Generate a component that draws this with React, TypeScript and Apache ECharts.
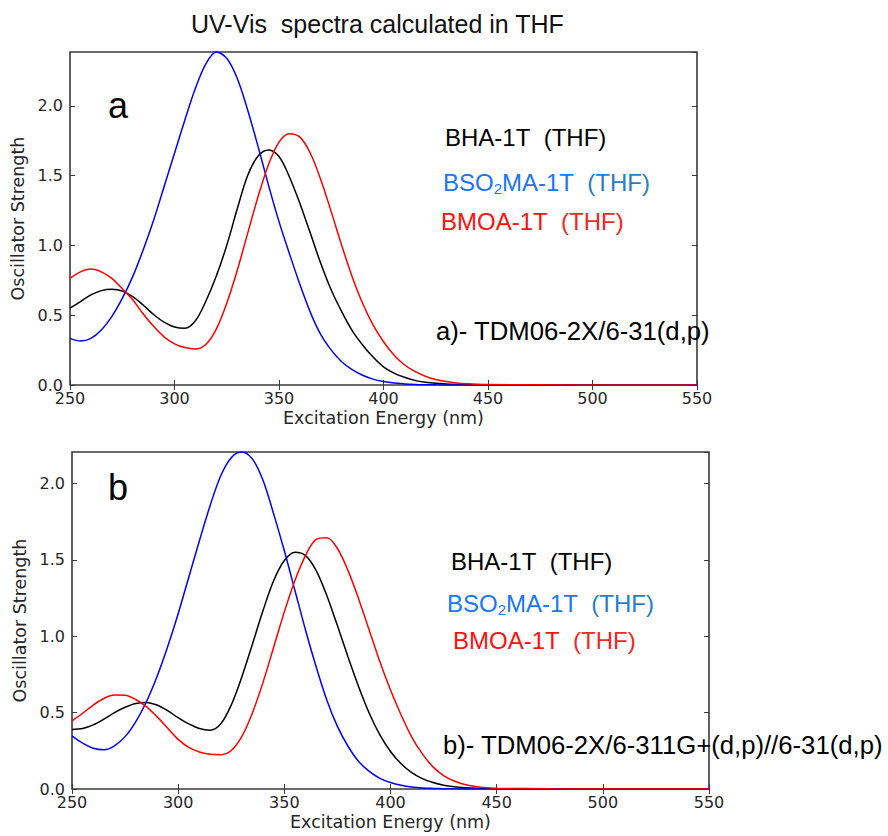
import React, { useEffect, useRef } from "react";
import * as echarts from "echarts";

// Wavelengths (nm) sampled for both panels
const wavelengths = [
  250, 255, 260, 265, 270, 275, 280, 285, 290, 295,
  300, 305, 310, 315, 320, 325, 330, 335, 340, 345,
  350, 355, 360, 365, 370, 375, 380, 385, 390, 395,
  400, 405, 410, 415, 420, 425, 430, 435, 440, 445,
  450, 475, 500, 525, 550,
];

// Panel a: TDM06-2X/6-31(d,p)
const bhaA = [
  0.55, 0.597, 0.645, 0.676, 0.685, 0.673, 0.633, 0.573, 0.505, 0.45,
  0.415, 0.406, 0.46, 0.6, 0.78, 1.0, 1.26, 1.5, 1.64, 1.683,
  1.636, 1.49, 1.3, 1.086, 0.87, 0.68, 0.525, 0.39, 0.287, 0.2,
  0.13, 0.085, 0.055, 0.033, 0.02, 0.012, 0.007, 0.004, 0.002, 0.001,
  0.0005, 0, 0, 0, 0,
];
const bso2maA = [
  0.334, 0.315, 0.334, 0.394, 0.49, 0.62, 0.776, 0.967, 1.18, 1.42,
  1.66, 1.9, 2.125, 2.3, 2.385, 2.34, 2.197, 1.97, 1.707, 1.43,
  1.17, 0.94, 0.72, 0.52, 0.36, 0.25, 0.167, 0.11, 0.07, 0.042,
  0.025, 0.014, 0.008, 0.004, 0.002, 0.001, 0.0005, 0, 0, 0,
  0, 0, 0, 0, 0,
];
const bmoaA = [
  0.764, 0.81, 0.83, 0.81, 0.764, 0.69, 0.61, 0.51, 0.42, 0.345,
  0.295, 0.268, 0.258, 0.29, 0.4, 0.585, 0.82, 1.086, 1.35, 1.58,
  1.74, 1.80, 1.775, 1.66, 1.47, 1.24, 1.0, 0.776, 0.585, 0.43,
  0.31, 0.215, 0.145, 0.097, 0.063, 0.04, 0.025, 0.015, 0.009, 0.005,
  0.003, 0.001, 0, 0, 0,
];

// Panel b: TDM06-2X/6-311G+(d,p)//6-31(d,p)
const bhaB = [
  0.39, 0.396, 0.42, 0.457, 0.5, 0.535, 0.56, 0.567, 0.55, 0.513,
  0.467, 0.426, 0.396, 0.385, 0.425, 0.55, 0.735, 0.95, 1.17, 1.365,
  1.496, 1.55, 1.528, 1.43, 1.267, 1.07, 0.865, 0.67, 0.496, 0.354,
  0.246, 0.165, 0.107, 0.068, 0.042, 0.025, 0.015, 0.009, 0.005, 0.003,
  0.0015, 0, 0, 0, 0,
];
const bso2maB = [
  0.348, 0.3, 0.267, 0.257, 0.283, 0.343, 0.44, 0.57, 0.735, 0.93,
  1.148, 1.387, 1.626, 1.854, 2.05, 2.17, 2.207, 2.16, 2.02, 1.8,
  1.56, 1.3, 1.04, 0.8, 0.583, 0.41, 0.28, 0.18, 0.115, 0.07,
  0.042, 0.024, 0.013, 0.007, 0.004, 0.002, 0.001, 0.0005, 0, 0,
  0, 0, 0, 0, 0,
];
const bmoaB = [
  0.446, 0.496, 0.55, 0.593, 0.615, 0.614, 0.586, 0.54, 0.474, 0.4,
  0.325, 0.272, 0.242, 0.228, 0.225, 0.252, 0.345, 0.5, 0.7, 0.93,
  1.16, 1.365, 1.53, 1.635, 1.645, 1.575, 1.43, 1.245, 1.04, 0.833,
  0.648, 0.485, 0.34, 0.23, 0.145, 0.088, 0.052, 0.03, 0.017, 0.009,
  0.005, 0.001, 0, 0, 0,
];

const xTicks = { min: 250, max: 550, interval: 50 };
const yTicks = { min: 0, interval: 0.5 };
const yMaxA = 2.385;
const yMaxB = 2.207;

const titleText = "UV-Vis  spectra calculated in THF";
const methodA = "a)- TDM06-2X/6-31(d,p)";
const methodB = "b)- TDM06-2X/6-311G+(d,p)//6-31(d,p)";

const SANS = "'Liberation Sans', Arial, sans-serif";
const MPL = "'DejaVu Sans', sans-serif";
const FRAME = "#3a3a3a";
const TICKTXT = "#262626";

function pair(ys: number[]) {
  return wavelengths.map((x, i) => [x, ys[i]]);
}

function xAxes(gridIndex: number) {
  return [
    {
      type: "value",
      gridIndex,
      position: "bottom",
      ...xTicks,
      name: "Excitation Energy (nm)",
      nameLocation: "middle",
      nameGap: 24,
      nameTextStyle: { fontFamily: MPL, fontSize: 17.5, color: TICKTXT },
      axisLine: { show: false },
      axisTick: { show: true, inside: true, length: 5, lineStyle: { color: FRAME, width: 1 } },
      axisLabel: { fontFamily: MPL, fontSize: 16, color: TICKTXT, margin: 5 },
      splitLine: { show: false },
    },
    {
      type: "value",
      gridIndex,
      position: "top",
      ...xTicks,
      axisLine: { show: false },
      axisTick: { show: true, inside: true, length: 5, lineStyle: { color: FRAME, width: 1 } },
      axisLabel: { show: false },
      splitLine: { show: false },
    },
  ];
}

function yAxes(gridIndex: number, max: number, nameGap: number) {
  return [
    {
      type: "value",
      gridIndex,
      position: "left",
      ...yTicks,
      max,
      name: "Oscillator Strength",
      nameLocation: "middle",
      nameGap,
      nameTextStyle: { fontFamily: MPL, fontSize: 17.5, color: TICKTXT },
      axisLine: { show: false },
      axisTick: { show: true, inside: true, length: 5, lineStyle: { color: FRAME, width: 1 } },
      axisLabel: {
        fontFamily: MPL,
        fontSize: 16,
        color: TICKTXT,
        margin: 7,
        showMaxLabel: false,
        formatter: (v: number) => v.toFixed(1),
      },
      splitLine: { show: false },
    },
    {
      type: "value",
      gridIndex,
      position: "right",
      ...yTicks,
      max,
      axisLine: { show: false },
      axisTick: { show: true, inside: true, length: 5, lineStyle: { color: FRAME, width: 1 } },
      axisLabel: { show: false },
      splitLine: { show: false },
    },
  ];
}

function line(name: string, ys: number[], color: string, axisIndex: number) {
  return {
    type: "line",
    name,
    xAxisIndex: axisIndex,
    yAxisIndex: axisIndex,
    data: pair(ys),
    showSymbol: false,
    smooth: 0.33,
    lineStyle: { color, width: 1.5 },
    itemStyle: { color },
    z: 3,
  };
}

function legendTexts(x0: number, y0: number, x1: number, y1: number, x2: number, y2: number) {
  const base = { fontSize: 24, fontFamily: SANS, lineHeight: 28 };
  return [
    {
      type: "text",
      x: x0,
      y: y0,
      style: {
        text: "BHA-1T\u00a0\u00a0(THF)",
        fill: "#000000",
        fontSize: 24,
        fontFamily: SANS,
        verticalAlign: "middle",
        align: "left",
      },
    },
    {
      type: "text",
      x: x1,
      y: y1,
      style: {
        text: "{a|BSO}{s|2}{a|MA-1T\u00a0\u00a0}{b|(THF)}",
        fill: "#1a75ff",
        fontSize: 24,
        fontFamily: SANS,
        verticalAlign: "middle",
        align: "left",
        rich: {
          a: { ...base, fill: "#1a75ff" },
          s: { fontSize: 15, fontFamily: SANS, lineHeight: 16, verticalAlign: "bottom", fill: "#1a75ff" },
          b: { ...base, fill: "#2b7cc4" },
        },
      },
    },
    {
      type: "text",
      x: x2,
      y: y2,
      style: {
        text: "{a|BMOA-1T\u00a0\u00a0}{b|(THF)}",
        fill: "#ff1010",
        fontSize: 24,
        fontFamily: SANS,
        verticalAlign: "middle",
        align: "left",
        rich: {
          a: { ...base, fill: "#ff1010" },
          b: { ...base, fill: "#f02828" },
        },
      },
    },
  ];
}

export default function App() {
  const ref = useRef<HTMLDivElement>(null);

  useEffect(() => {
    if (!ref.current) return;
    const chart = echarts.init(ref.current, undefined, { renderer: "svg" });

    const gridStyle = { show: true, borderColor: FRAME, borderWidth: 1.6, backgroundColor: "#ffffff" };

    chart.setOption({
      animation: false,
      backgroundColor: "#ffffff",
      grid: [
        { left: 70, top: 52, width: 627, height: 333, ...gridStyle },
        { left: 72, top: 452, width: 637, height: 337, ...gridStyle },
      ],
      xAxis: [...xAxes(0), ...xAxes(1)],
      yAxis: [...yAxes(0, yMaxA, 41), ...yAxes(1, yMaxB, 43)],
      series: [
        line("BHA-1T (THF)", bhaA, "#000000", 0),
        line("BSO2MA-1T (THF)", bso2maA, "#0000ff", 0),
        line("BMOA-1T (THF)", bmoaA, "#ff0000", 0),
        line("BHA-1T (THF)", bhaB, "#000000", 2),
        line("BSO2MA-1T (THF)", bso2maB, "#0000ff", 2),
        line("BMOA-1T (THF)", bmoaB, "#ff0000", 2),
      ],
      graphic: [
        {
          type: "text",
          x: 191,
          y: 24,
          style: { text: titleText, fill: "#111111", fontSize: 25, fontFamily: SANS, verticalAlign: "middle", align: "left" },
          z: 10,
        },
        {
          type: "text",
          x: 108,
          y: 105,
          style: { text: "a", fill: "#000000", fontSize: 36, fontFamily: SANS, verticalAlign: "middle", align: "left" },
          z: 10,
        },
        {
          type: "text",
          x: 108,
          y: 487,
          style: { text: "b", fill: "#000000", fontSize: 36, fontFamily: SANS, verticalAlign: "middle", align: "left" },
          z: 10,
        },
        ...legendTexts(445, 137, 443, 182, 441, 221),
        ...legendTexts(451, 561, 447, 603, 453, 640),
        {
          type: "text",
          x: 436,
          y: 331,
          style: { text: methodA, fill: "#000000", fontSize: 25.7, fontFamily: SANS, verticalAlign: "middle", align: "left" },
          z: 10,
        },
        {
          type: "text",
          x: 443,
          y: 745,
          style: { text: methodB, fill: "#000000", fontSize: 25.7, fontFamily: SANS, verticalAlign: "middle", align: "left" },
          z: 10,
        },
      ],
    });

    return () => chart.dispose();
  }, []);

  return (
    <div
      ref={ref}
      style={{ position: "absolute", left: 0, top: 0, width: 888, height: 836, background: "#ffffff" }}
    />
  );
}
